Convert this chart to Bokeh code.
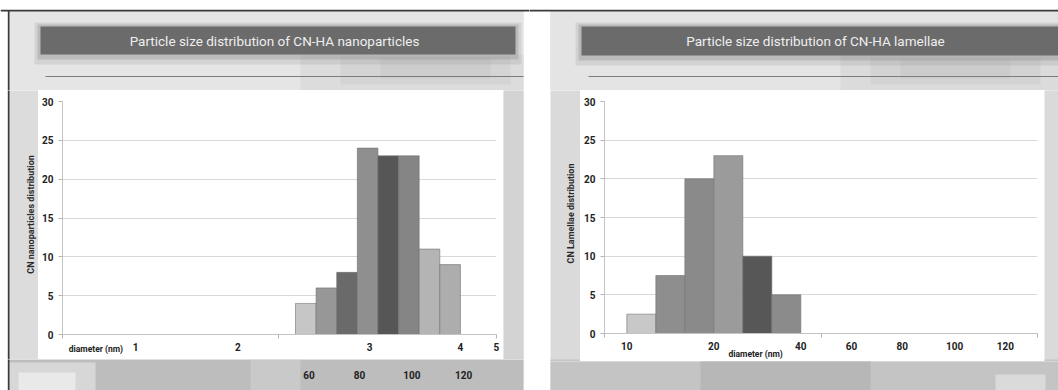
import math
from bokeh.plotting import figure
from bokeh.layouts import row, column
from bokeh.models import Range1d, FixedTicker, LinearAxis, ColumnDataSource, Plot
from bokeh.core.properties import value
from bokeh.embed import file_html
from bokeh.resources import INLINE

# ---------------- data ----------------
# CN-HA nanoparticles: bar slots and their counts
nano_slots = [12, 13, 14, 15, 16, 17, 18, 19]
nano_counts = [4, 6, 8, 24, 23, 23, 11, 9]
nano_colors = ["#c6c6c6", "#979797", "#6a6a6a", "#8f8f8f", "#565656", "#858585", "#b4b4b4", "#adadad"]
nano_tick_pos = [3.75, 8.7, 15.1, 19.5, 21.24]
nano_tick_labels = ["1", "2", "3", "4", "5"]
nano_size_pos = [12.15, 14.6, 17.15, 19.65]
nano_size_labels = ["60", "80", "100", "120"]

# CN-HA lamellae: bar slots and their counts
lam_slots = [1, 2, 3, 4, 5, 6]
lam_counts = [2.5, 7.5, 20, 23, 10, 5]
lam_colors = ["#c8c8c8", "#8e8e8e", "#8a8a8a", "#9b9b9b", "#575757", "#8b8b8b"]
lam_tick_pos = [0.5, 3.5, 6.5, 8.25, 10.0, 11.8, 13.55]
lam_tick_labels = ["10", "20", "40", "60", "80", "100", "120"]

y_ticks = [0, 5, 10, 15, 20, 25, 30]

titles = ["Particle size distribution of CN-HA nanoparticles",
          "Particle size distribution of CN-HA lamellae"]
y_titles = ["CN nanoparticles distribution", "CN Lamellae distribution"]
x_title = "diameter (nm)"

FONT = "Roboto, sans-serif"
NO_ALIGN = {"frame_align": False} if "frame_align" in Plot.properties() else {}

# ---------------- slide artwork (page pixels) ----------------
# left, right, top, bottom, colour, alpha
slide_boxes = [
    # panel grounds
    (8, 523, 10, 390, "#dcdcdc", 1.0),
    (8, 523, 10, 90, "#e5e5e5", 1.0),
    (8, 523, 359, 390, "#bdbdbd", 1.0),
    (8, 95, 362, 390, "#d9d9d9", 0.9),
    (18, 75, 372, 390, "#eeeeee", 0.8),
    (250, 300, 359, 390, "#d0d0d0", 0.6),
    (503, 523, 90, 359, "#d3d3d3", 1.0),
    (550, 1058, 10, 390, "#dadada", 1.0),
    (550, 1058, 10, 90, "#e4e4e4", 1.0),
    (550, 1058, 359, 390, "#c4c4c4", 1.0),
    (700, 870, 359, 390, "#b2b2b2", 0.7),
    (995, 1045, 374, 390, "#dddddd", 0.9),
    # soft shading under the banners
    (300, 523, 54, 90, "#9c9c9c", 0.12),
    (340, 510, 56, 84, "#9c9c9c", 0.12),
    (380, 490, 58, 78, "#9c9c9c", 0.12),
    (840, 1058, 55, 90, "#9c9c9c", 0.12),
    (870, 1040, 57, 84, "#9c9c9c", 0.12),
    (900, 1010, 59, 78, "#9c9c9c", 0.12),
    # banner drop shadows and banners
    (34, 521, 22, 64, "#8e8e8e", 0.2),
    (37, 518, 24, 59, "#7e7e7e", 0.28),
    (575, 1058, 22, 65, "#8e8e8e", 0.2),
    (578, 1058, 24, 60, "#7e7e7e", 0.28),
    (40, 515, 26, 54, "#6b6b6b", 1.0),
    (581, 1062, 26, 55, "#6b6b6b", 1.0),
    # rules and page frame
    (45, 523, 75.5, 76.5, "#7c7c7c", 1.0),
    (588, 1058, 75.5, 76.5, "#7c7c7c", 1.0),
    (0, 1058, 9.3, 11, "#3a3a3a", 1.0),
    (7.3, 9, 10, 390, "#3a3a3a", 1.0),
]
title_xy = [(274, 40), (815, 40)]
ytitle_xy = [(30, 214), (570, 213)]

slide_src = ColumnDataSource(dict(
    left=[b[0] for b in slide_boxes], right=[b[1] for b in slide_boxes],
    top=[b[2] for b in slide_boxes], bottom=[b[3] for b in slide_boxes],
    color=[b[4] for b in slide_boxes], alpha=[b[5] for b in slide_boxes]))


def inside(xy, x0, x1, y0, y1):
    return x0 <= xy[0] <= x1 and y0 <= xy[1] <= y1


def slide_piece(x0, x1, y0, y1):
    """A borderless figure showing the slide artwork for one page region."""
    p = figure(frame_width=x1 - x0, frame_height=y1 - y0, x_range=Range1d(x0, x1),
               y_range=Range1d(y1, y0), x_axis_type=None, y_axis_type=None,
               min_border=0, toolbar_location=None, output_backend="svg",
               border_fill_color="white", background_fill_color="white",
               outline_line_color=None, **NO_ALIGN)
    p.grid.visible = False
    p.quad(left="left", right="right", top="top", bottom="bottom", source=slide_src,
           fill_color="color", fill_alpha="alpha", line_color=None)
    t = [i for i, xy in enumerate(title_xy) if inside(xy, x0, x1, y0, y1)]
    if t:
        p.text(x=[title_xy[i][0] for i in t], y=[title_xy[i][1] for i in t],
               text=[titles[i] for i in t], text_font=value(FONT),
               text_font_size="13.5px", text_color="#eeeeee",
               text_align="center", text_baseline="middle")
    t = [i for i, xy in enumerate(ytitle_xy) if inside(xy, x0, x1, y0, y1)]
    if t:
        p.text(x=[ytitle_xy[i][0] for i in t], y=[ytitle_xy[i][1] for i in t],
               text=[y_titles[i] for i in t], angle=math.pi / 2,
               text_font=value(FONT), text_font_size="9px", text_font_style="bold",
               text_color="#2a2a2a", text_align="center", text_baseline="middle")
    return p


def style_axis(ax, size="10px"):
    ax.major_label_text_font = FONT
    ax.major_label_text_font_size = size
    ax.major_label_text_font_style = "bold"
    ax.major_label_text_color = "#222222"


def chart(width, height, bottom, x_start, x_end, slots, counts, colors, tick_pos,
          tick_labels, minor_pos, xtitle_pos, xtitle_standoff):
    p = figure(width=width, height=height, x_range=Range1d(x_start, x_end),
               y_range=Range1d(0, 30),
               min_border_left=24, min_border_right=7, min_border_top=11,
               min_border_bottom=bottom, toolbar_location=None, output_backend="svg",
               border_fill_color="white", background_fill_color="white",
               outline_line_color=None, **NO_ALIGN)
    src = ColumnDataSource(dict(x=slots, top=counts, color=colors))
    p.vbar(x="x", top="top", bottom=0, width=1, source=src, fill_color="color",
           line_color="#707070", line_width=0.6)

    p.xgrid.visible = False
    p.ygrid.ticker = FixedTicker(ticks=y_ticks)
    p.ygrid.grid_line_color = "#d8d8d8"

    ya = p.yaxis[0]
    ya.ticker = FixedTicker(ticks=y_ticks)
    ya.axis_line_color = "#c4c4c4"
    ya.major_tick_line_color = "#b4b4b4"
    ya.major_tick_out = 4
    ya.major_tick_in = 0
    ya.minor_tick_line_color = None
    ya.major_label_standoff = 5
    style_axis(ya)

    xa = p.xaxis[0]
    xa.ticker = FixedTicker(ticks=tick_pos, minor_ticks=minor_pos)
    xa.major_label_overrides = dict(zip(tick_pos, tick_labels))
    xa.axis_line_color = "#c4c4c4"
    xa.major_tick_line_color = None
    xa.major_tick_out = 0
    xa.major_tick_in = 0
    xa.minor_tick_line_color = "#b4b4b4"
    xa.minor_tick_out = 4
    xa.minor_tick_in = 0
    xa.major_label_standoff = 4
    style_axis(xa)

    # axis title set on its own line beside the tick labels
    xt = LinearAxis(ticker=FixedTicker(ticks=[xtitle_pos]),
                    major_label_overrides={xtitle_pos: x_title},
                    axis_line_color=None, major_tick_line_color=None,
                    minor_tick_line_color=None, major_tick_out=0, major_tick_in=0,
                    minor_tick_out=0, minor_tick_in=0,
                    major_label_standoff=xtitle_standoff)
    style_axis(xt, "8.5px")
    p.add_layout(xt, "below")
    return p


# ---------------- nanoparticle panel ----------------
nano_x = (0.2, 21.25)
nano_chart = chart(465, 269, 25, nano_x[0], nano_x[1], nano_slots, nano_counts,
                   nano_colors, nano_tick_pos, nano_tick_labels, [0.2, 10.7, 21.25],
                   1.82, -10)
nano_bottom = slide_piece(0, 529, 359, 390)
# the chart's diameter scale carried on the strip beneath the card
px_per_unit = (496 - 62) / (nano_x[1] - nano_x[0])
nano_bottom.extra_x_ranges = {"chart": Range1d(nano_x[0] - 62 / px_per_unit,
                                               nano_x[0] + (529 - 62) / px_per_unit)}
nano_bottom.text(x=nano_size_pos, y=[374] * len(nano_size_pos), text=nano_size_labels,
                 x_range_name="chart", text_font=value(FONT), text_font_size="10px",
                 text_font_style="bold", text_color="#222222",
                 text_align="center", text_baseline="middle")
left_panel = column(slide_piece(0, 529, 0, 90),
                    row(slide_piece(0, 38, 90, 359), nano_chart,
                        slide_piece(503, 529, 90, 359)),
                    nano_bottom)

# ---------------- lamellae panel ----------------
lam_chart = chart(464, 271, 27, -0.27, 14.66, lam_slots, lam_counts, lam_colors,
                  lam_tick_pos, lam_tick_labels, [-0.27, 7.2, 14.66], 4.94, -4)
right_panel = column(slide_piece(529, 1058, 0, 90),
                     row(slide_piece(529, 580, 90, 361), lam_chart,
                         slide_piece(1044, 1058, 90, 361)),
                     slide_piece(529, 1058, 361, 390))

layout = row(left_panel, right_panel)
open("out.html", "w").write(file_html(layout, INLINE))
